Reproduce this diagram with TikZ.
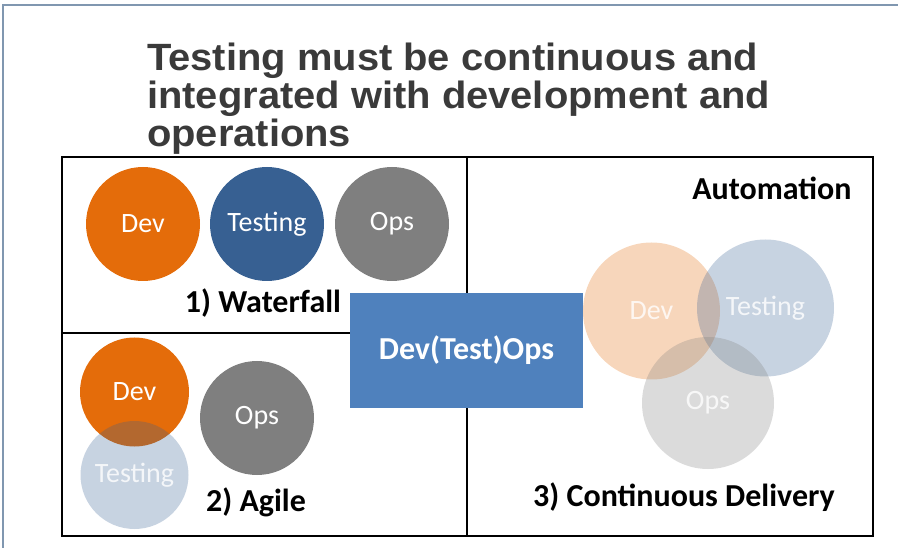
\documentclass[tikz,border=0pt]{standalone}
\usepackage{fontspec}
\setmainfont{Carlito}
\newfontfamily\titlefont[FakeStretch=1.05]{Liberation Sans}
\definecolor{devorange}{HTML}{E46C0A}
\definecolor{testblue}{HTML}{376092}
\definecolor{opsgray}{HTML}{7F7F7F}
\definecolor{boxblue}{HTML}{4F81BD}
\definecolor{titlegray}{HTML}{3A3A3A}
\definecolor{slideframe}{HTML}{8097B0}
\begin{document}
\begin{tikzpicture}[x=1pt, y=-1pt,
        phase/.style={circle, inner sep=0pt, text=white, font=\fontsize{28}{30}\selectfont},
        faded/.style={phase, fill opacity=0.28, text opacity=0.8},
        panel/.style={line width=2.6pt},
        label/.style={font=\fontsize{32}{34}\selectfont\bfseries}]
        \useasboundingbox (0, 0) rectangle (898, 548);
        % slide frame
        \draw[slideframe, line width=1.2pt] (3, 548) -- (3, 5) -- (898, 5);
        \node[anchor=north west, inner sep=0pt, align=left, text=titlegray,
              font=\titlefont\bfseries\fontsize{38}{38}\selectfont] (title) at (147, 43)
              {Testing must be continuous and\\integrated with development and\\operations};
        % panels
        \draw[panel] (62, 157) rectangle (873, 536);
        \draw[panel] (467, 157) -- (467, 536);
        \draw[panel] (62, 333) -- (467, 333);
        % 1) waterfall
        \node[phase, fill=devorange, minimum size=114pt] (wdev) at (143, 224) {Dev};
        \node[phase, fill=testblue, minimum size=114pt] (wtest) at (267, 224) {Testing};
        \node[phase, fill=opsgray, minimum size=114pt] (wops) at (392, 224) {Ops};
        \node[label] (waterfall) at (263, 303) {1) Waterfall};
        % 2) agile
        \node[phase, fill=devorange, minimum size=109pt] (adev) at (134.5, 392) {Dev};
        \node[phase, fill=opsgray, minimum size=114pt] (aops) at (257, 418) {Ops};
        \node[faded, fill=testblue, minimum size=108pt] (atest) at (134.5, 475) {Testing};
        \node[label] (agile) at (256, 502) {2) Agile};
        % 3) continuous delivery
        \node[faded, fill=devorange, minimum size=137pt] (cdev) at (651.5, 311) {Dev};
        \node[faded, fill=testblue, minimum size=137pt] (ctest) at (765.5, 308) {Testing};
        \node[faded, fill=opsgray, minimum size=132pt] (cops) at (708, 403) {Ops};
        \node[label, anchor=east] (automation) at (855, 188) {Automation};
        \node[label] (delivery) at (684, 497) {3) Continuous Delivery};
        % centre box
        \node[label, fill=boxblue, text=white, minimum width=233pt, minimum height=115pt] (devtestops) at (466.5, 350.5) {Dev(Test)Ops};
\end{tikzpicture}
\end{document}
